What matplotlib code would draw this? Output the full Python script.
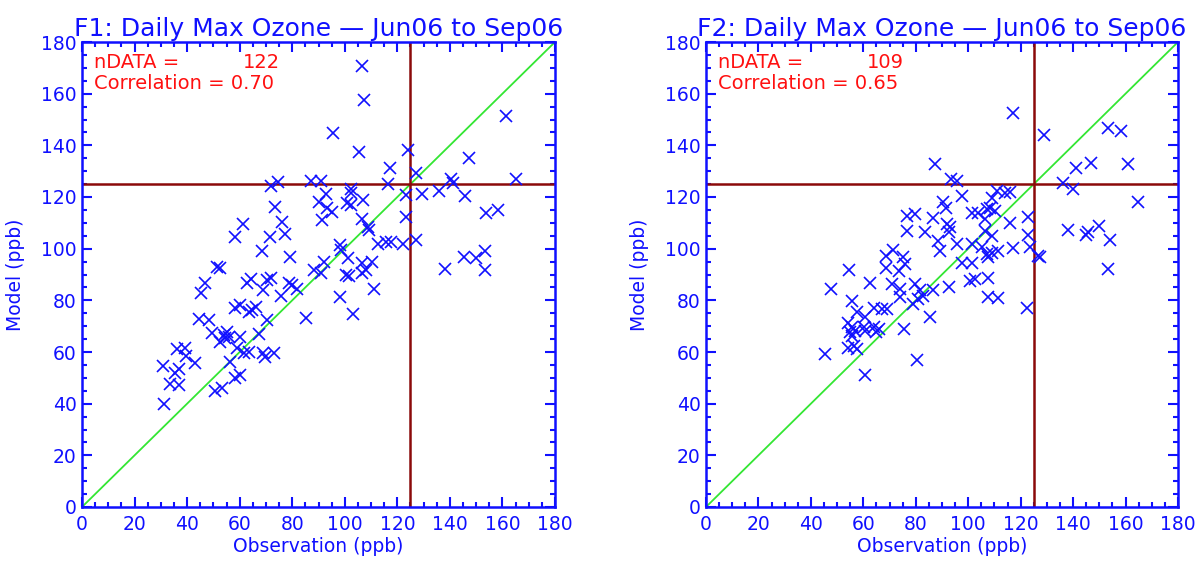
import matplotlib
matplotlib.use("Agg")
import matplotlib.pyplot as plt
from matplotlib.ticker import MultipleLocator

# ---------------- data ----------------
f1_obs = [72.0, 74.7, 87.0, 91.1, 73.3, 76.0, 61.3, 58.1, 71.4, 77.4, 68.4, 79.1, 51.4, 52.7, 88.3,
          106.4, 107.4, 95.5, 105.5, 161.2, 124.2, 117.3, 127.1, 147.2, 165.0, 140.5, 141.1, 136.0,
          145.8, 129.3, 116.3, 102.3, 102.3, 92.7, 90.2, 93.4, 95.3, 91.5, 100.8, 102.3, 107.1, 106.5,
          108.7, 109.3, 123.3, 123.3, 153.8, 158.3, 112.5, 115.6, 117.6, 122.0, 127.1, 98.2, 98.5,
          101.3, 92.1, 106.7, 110.2, 108.0, 106.7, 100.4, 101.6, 145.3, 150.0, 153.2, 153.2, 138.2,
          98.2, 111.2, 103.3, 85.1, 46.9, 45.3, 62.9, 64.4, 69.0, 70.5, 71.8, 75.6, 78.7, 80.0, 81.9,
          58.4, 60.0, 63.5, 64.8, 66.4, 70.5, 67.3, 44.4, 48.2, 49.5, 53.9, 55.2, 52.7, 54.6, 55.9,
          60.3, 59.0, 63.5, 61.6, 69.0, 69.8, 73.0, 36.1, 39.3, 39.7, 43.1, 31.0, 35.5, 37.1, 33.3,
          37.1, 56.2, 58.4, 60.3, 50.8, 53.3, 31.3, 90.8]
f1_mod = [124.4, 125.9, 126.3, 126.3, 116.3, 110.5, 109.6, 104.6, 104.6, 105.6, 99.1, 96.9, 93.0, 92.4, 91.8,
          170.9, 157.6, 144.7, 137.6, 151.4, 138.2, 131.4, 129.4, 135.2, 126.9, 126.9, 125.6, 122.5,
          120.5, 121.2, 124.9, 123.1, 121.7, 121.2, 118.2, 115.6, 114.3, 111.1, 117.6, 116.9, 118.9, 111.5,
          108.5, 107.2, 120.8, 112.4, 113.9, 115.0, 101.8, 102.7, 102.7, 101.8, 103.4, 101.4, 99.5,
          96.3, 95.0, 94.3, 95.0, 91.8, 90.5, 89.8, 89.4, 96.9, 96.3, 99.2, 91.8, 92.0,
          81.4, 84.3, 74.7, 73.0, 86.6, 83.0, 86.6, 88.2, 84.0, 87.9, 88.5, 81.7, 86.6, 85.9, 84.3,
          76.9, 78.2, 75.6, 76.3, 77.5, 72.4, 66.9, 72.7, 72.4, 67.2, 66.6, 67.9, 64.0, 65.3, 65.9,
          65.9, 61.4, 60.1, 59.5, 59.5, 58.2, 59.5, 61.0, 61.4, 58.5, 55.6, 54.6, 52.0, 53.3, 47.6,
          47.2, 56.3, 49.8, 51.1, 44.9, 46.2, 39.9, 90.7]

f2_obs = [87.4, 76.6, 79.8, 86.7, 76.6, 83.6, 68.7, 71.3, 75.3, 75.9, 68.7, 73.7, 54.7, 62.6, 70.9,
          74.0, 79.8, 81.7, 86.7, 47.8, 73.8, 55.6, 63.9, 69.0, 57.5, 67.1, 60.7, 54.3, 55.6, 56.9,
          55.0, 60.1, 60.7, 63.9, 65.8, 64.9, 55.6, 54.3, 57.5, 56.3, 45.5, 75.6, 80.6, 60.7, 79.1,
          81.0, 85.5, 117.2, 129.0, 153.2, 158.2, 141.1, 146.8, 160.8, 93.5, 95.7, 136.0, 140.1, 164.9,
          110.9, 114.1, 116.0, 109.0, 97.6, 90.5, 91.6, 101.4, 103.9, 107.1, 108.3, 110.3, 106.4, 91.8,
          93.1, 92.5, 116.0, 122.9, 122.9, 123.6, 106.4, 109.0, 88.6, 89.3, 95.7, 101.4, 105.2, 107.1,
          109.0, 111.5, 107.7, 117.2, 126.8, 127.4, 137.9, 144.9, 145.8, 149.9, 154.1, 153.2, 97.6,
          101.4, 100.7, 102.6, 107.7, 92.5, 107.7, 111.5, 122.3, 82.9]
f2_mod = [132.7, 112.7, 113.4, 111.8, 106.7, 106.3, 97.3, 99.5, 96.6, 94.0, 92.7, 91.2, 91.7, 86.9, 86.5,
          84.4, 86.3, 84.0, 84.0, 84.4, 81.1, 79.8, 77.2, 76.6, 75.3, 76.6, 73.4, 71.4, 69.5, 68.2,
          67.6, 69.5, 68.2, 69.5, 68.9, 67.6, 66.3, 61.7, 61.1, 62.4, 59.2, 68.9, 57.0, 51.1, 78.6,
          80.5, 73.6, 152.5, 144.0, 146.9, 145.4, 131.2, 133.0, 132.7, 126.9, 126.3, 125.6, 123.1, 118.2,
          122.4, 121.4, 121.8, 119.8, 120.2, 117.9, 115.9, 114.0, 114.0, 115.3, 115.9, 114.7, 111.5, 109.5,
          108.2, 106.3, 110.1, 112.1, 105.4, 100.5, 106.9, 105.0, 103.1, 99.2, 101.8, 101.8, 100.5, 97.9,
          98.5, 99.2, 96.6, 100.2, 97.3, 96.6, 107.3, 105.4, 106.3, 108.6, 103.3, 92.3, 94.3,
          94.3, 87.3, 88.2, 88.8, 85.2, 81.4, 80.9, 77.2, 81.8]

titles = ["F1: Daily Max Ozone \u2014 Jun06 to Sep06", "F2: Daily Max Ozone \u2014 Jun06 to Sep06"]
ndata = [122, 109]
corr = ["0.70", "0.65"]
threshold = 125
ticks = [0, 20, 40, 60, 80, 100, 120, 140, 160, 180]

# ---------------- style ----------------
BLUE = "#1010ff"
RED = "#ff1010"
DARKRED = "#8b0a0a"
GREEN = "#33e633"

fig = plt.figure(figsize=(12.01, 5.66), dpi=100)
W, H = 1201.0, 566.0
axes_px = [(82, 42, 555, 507), (706, 42, 1178, 507)]

datasets = [(f1_obs, f1_mod), (f2_obs, f2_mod)]
for i, (l, t, r, b) in enumerate(axes_px):
    ax = fig.add_axes([l / W, 1 - b / H, (r - l) / W, (b - t) / H])
    obs, mod = datasets[i]
    ax.set_xlim(0, 180)
    ax.set_ylim(0, 180)
    ax.plot([0, 180], [0, 180], color=GREEN, lw=1.3, zorder=2)
    ax.axhline(threshold, color=DARKRED, lw=1.8, zorder=2)
    ax.axvline(threshold, color=DARKRED, lw=1.8, zorder=2)
    ax.plot(obs, mod, linestyle="none", marker="x", markersize=8.5,
            markeredgewidth=1.2, color=BLUE, zorder=3)
    for s in ax.spines.values():
        s.set_color(BLUE)
        s.set_linewidth(1.8)
    ax.set_xticks(ticks)
    ax.set_yticks(ticks)
    ax.xaxis.set_minor_locator(MultipleLocator(5))
    ax.yaxis.set_minor_locator(MultipleLocator(5))
    ax.tick_params(which="both", direction="in", top=True, right=True,
                   color=BLUE, labelcolor=BLUE, labelsize=13.5, width=1.5)
    ax.tick_params(which="major", length=7)
    ax.tick_params(which="minor", length=3.5)
    ax.tick_params(axis="x", pad=6)
    ax.tick_params(axis="y", pad=4)
    ax.set_xlabel("Observation (ppb)", color=BLUE, fontsize=13.5, labelpad=2)
    ax.set_ylabel("Model (ppb)", color=BLUE, fontsize=13.5, labelpad=11)
    ax.set_title(titles[i], color=BLUE, fontsize=18, pad=4)
    ax.text(0.025, 0.955, "nDATA =", transform=ax.transAxes, color=RED,
            fontsize=14, va="center", ha="left")
    ax.text(0.34, 0.955, str(ndata[i]), transform=ax.transAxes, color=RED,
            fontsize=14, va="center", ha="left")
    ax.text(0.025, 0.91, "Correlation = " + corr[i], transform=ax.transAxes,
            color=RED, fontsize=14, va="center", ha="left")

fig.savefig("out.png", dpi=100)
